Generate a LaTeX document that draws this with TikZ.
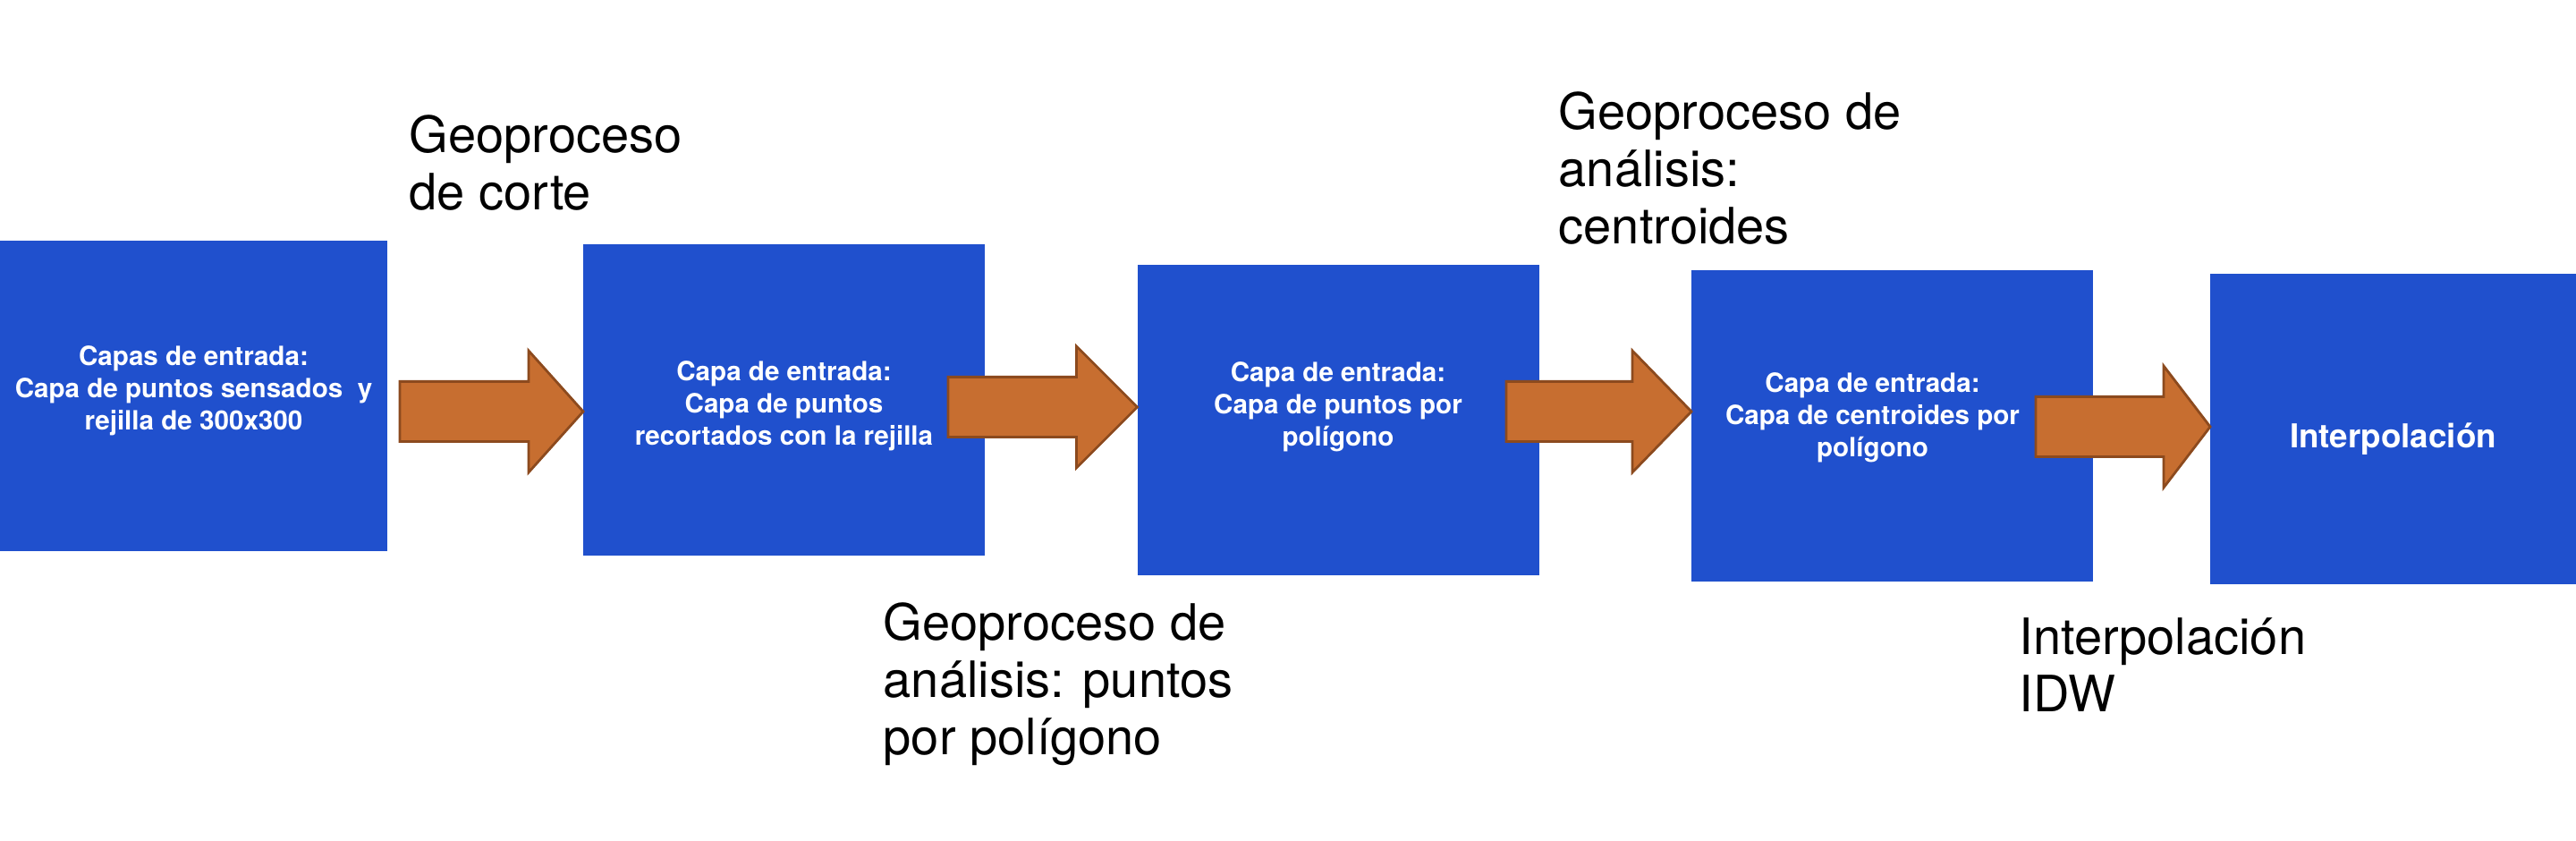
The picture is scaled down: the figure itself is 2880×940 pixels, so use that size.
\documentclass[tikz,border=0pt]{standalone}
\usepackage{fontspec}
\setmainfont{TeX Gyre Heros}
\usetikzlibrary{calc,positioning}

\definecolor{LayerBlue}{RGB}{32,80,205}
\definecolor{ArrowFill}{RGB}{199,110,48}
\definecolor{ArrowLine}{RGB}{140,74,30}

% block arrow from a start point to the west side of the next box
\newcommand{\FlowArrow}[3]{%
  \draw[Flow] let \p1 = (#1), \p2 = (#2) in
    (\x1, \y1+8.4pt) -- (\x2-#3, \y1+8.4pt) -- (\x2-#3, \y1+17pt) -- (\x2, \y1)
    -- (\x2-#3, \y1-17pt) -- (\x2-#3, \y1-8.4pt) -- (\x1, \y1-8.4pt) -- cycle;}

\begin{document}
\begin{tikzpicture}[x=0.25pt, y=-0.25pt]
		\tikzstyle{Layer} 	= [rectangle, fill=LayerBlue, inner sep=0pt, outer sep=0pt, minimum height=86.75pt]
		\tikzstyle{Wide}	= [minimum width=112.25pt]
		\tikzstyle{LayerText}	= [text=white, inner sep=0pt, align=center, font=\bfseries\fontsize{7.4}{9}\selectfont]
		\tikzstyle{Step}	= [anchor=north west, inner sep=0pt, align=left, font=\fontsize{14}{16}\selectfont]
		\tikzstyle{Flow}	= [fill=ArrowFill, draw=ArrowLine, line width=0.7pt, line join=miter]

		\useasboundingbox (0,0) rectangle (2880,940);

		\node (b1) at (216.5, 442.5) [Layer][minimum width=108.25pt] {};
		\node (b2) at (876.5, 447) [Layer][Wide] {};
		\node (b3) at (1496, 469.5) [Layer][Wide] {};
		\node (b4) at (2115.5, 476) [Layer][Wide] {};
		\node (b5) at (2675.5, 479.5) [Layer][minimum width=102.25pt] {};

		\node (t1) at ([yshift=1.4pt]b1.center) [LayerText] {Capas de entrada:\\Capa de puntos sensados \ y\\rejilla de 300x300};
		\node (t2) at ([yshift=-1.8pt]b2.center) [LayerText] {Capa de entrada:\\Capa de puntos\\recortados con la rejilla};
		\node (t3) at ([yshift=3.7pt]b3.center) [LayerText] {Capa de entrada:\\Capa de puntos por\\polígono};
		\node (t4) at ([xshift=-5.5pt, yshift=2.3pt]b4.center) [LayerText] {Capa de entrada:\\Capa de centroides por\\polígono};
		\node (t5) at ([yshift=-2.8pt]b5.center) [LayerText][font=\bfseries\fontsize{9.2}{11}\selectfont] {Interpolación};

		\coordinate (a1) at (447, 460);
		\coordinate (a2) at (1060, 455);
		\coordinate (a3) at (1684, 460);
		\coordinate (a4) at (2276, 477);

		\FlowArrow{a1}{b2.west}{15.25pt}
		\FlowArrow{a2}{b3.west}{17pt}
		\FlowArrow{a3}{b4.west}{16.5pt}
		\FlowArrow{a4}{b5.west}{13pt}

		\node (g1) at (457, 128) [Step] {Geoproceso\\de corte};
		\node (g2) at (987, 673) [Step] {Geoproceso de\\análisis: puntos\\por polígono};
		\node (g3) at (1742, 102) [Step] {Geoproceso de\\análisis:\\centroides};
		\node (g4) at (2257, 690) [Step] {Interpolación\\IDW};
	\end{tikzpicture}
\end{document}
